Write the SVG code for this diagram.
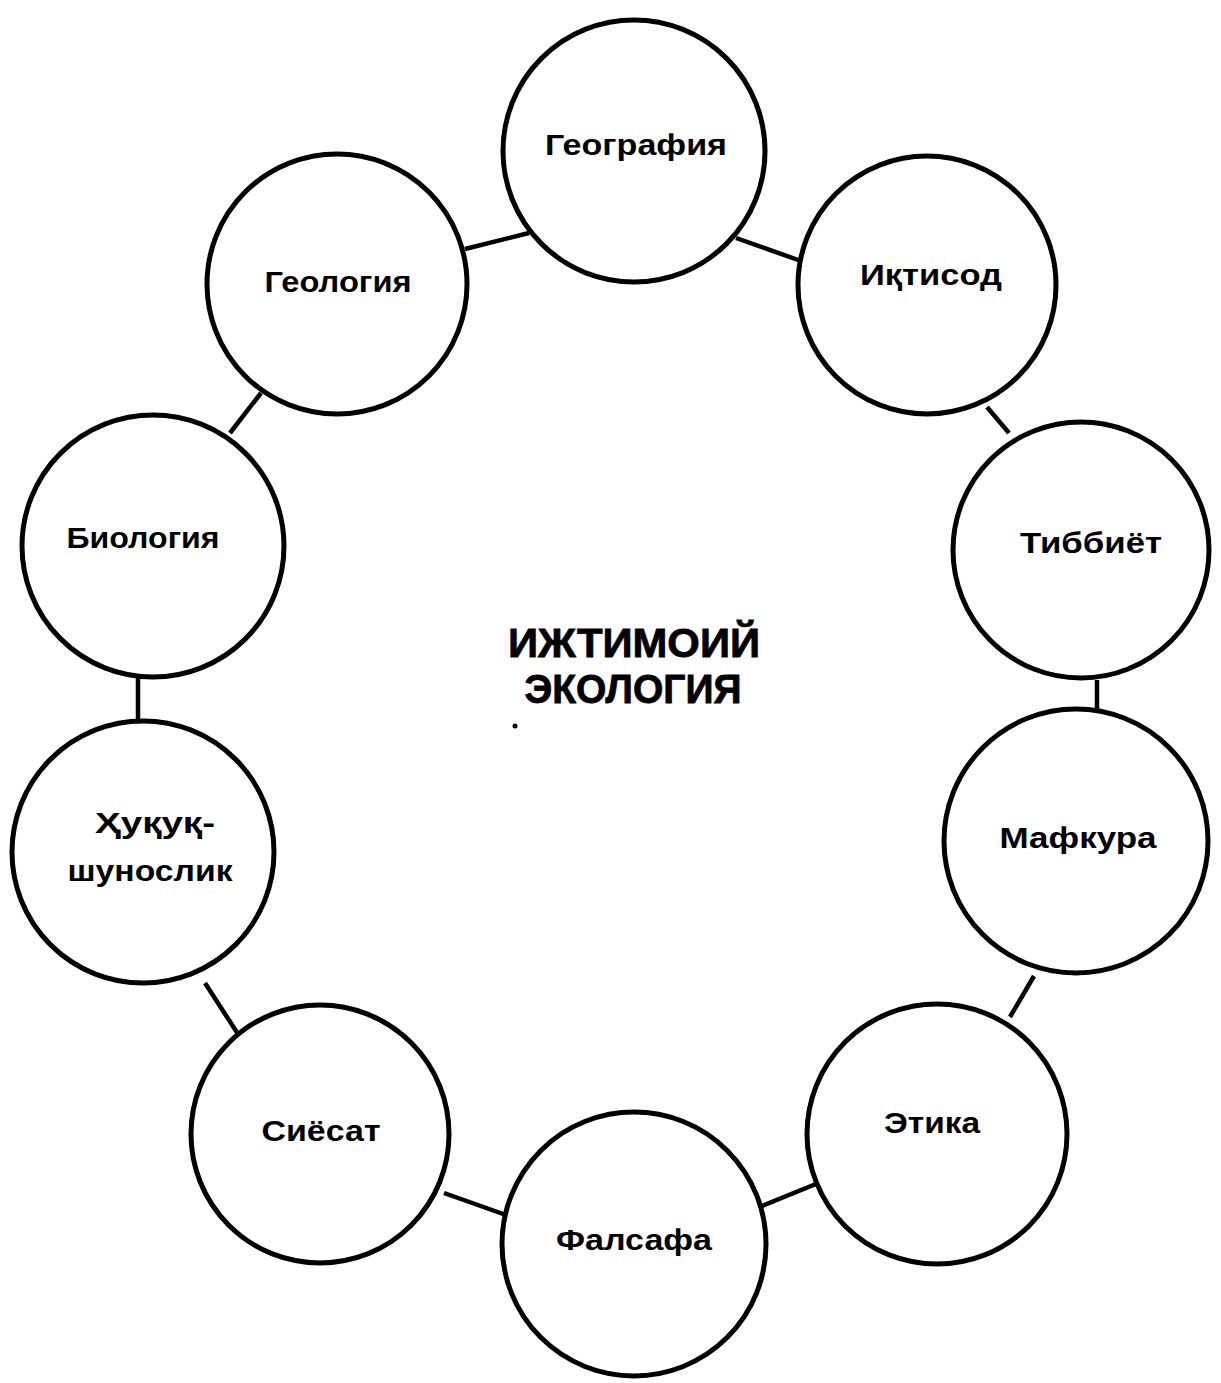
<svg xmlns="http://www.w3.org/2000/svg" width="1221" height="1383" viewBox="0 0 1221 1383">
<style>
.n{fill:#fff;stroke:#000;stroke-width:5}
.t{font-family:"Liberation Sans",Arial,sans-serif;font-weight:bold;font-size:29px;fill:#000;text-anchor:middle}
.c{font-family:"Liberation Sans",Arial,sans-serif;font-weight:bold;font-size:40px;fill:#000;text-anchor:middle;stroke:#000;stroke-width:0.8}
.e{stroke:#000;stroke-width:4.5;fill:none}
</style>
<rect width="1221" height="1383" fill="#fff"/>
<g id="connectors">
<line class="e" x1="465" y1="249" x2="529" y2="233"/>
<line class="e" x1="736" y1="238" x2="801" y2="261"/>
<line class="e" x1="987" y1="407" x2="1009" y2="433"/>
<line class="e" x1="1097" y1="680" x2="1097" y2="712"/>
<line class="e" x1="1034" y1="976" x2="1010" y2="1017"/>
<line class="e" x1="816" y1="1184" x2="762" y2="1206"/>
<line class="e" x1="506" y1="1215" x2="444" y2="1193"/>
<line class="e" x1="238" y1="1034" x2="205" y2="983"/>
<line class="e" x1="138" y1="678" x2="138" y2="722"/>
<line class="e" x1="230" y1="433" x2="261" y2="393"/>
</g>
<g id="n-geografiya"><circle class="n" cx="634" cy="151" r="131"/><text class="t" x="636" y="155" textLength="182" lengthAdjust="spacingAndGlyphs">География</text></g>
<g id="n-iqtisod"><circle class="n" cx="927" cy="285" r="129"/><text class="t" x="931" y="285" textLength="142" lengthAdjust="spacingAndGlyphs">Иқтисод</text></g>
<g id="n-tibbiyot"><circle class="n" cx="1081" cy="550" r="128"/><text class="t" x="1091" y="553" textLength="142" lengthAdjust="spacingAndGlyphs">Тиббиёт</text></g>
<g id="n-mafkura"><circle class="n" cx="1076" cy="841" r="132"/><text class="t" x="1078" y="848" textLength="157" lengthAdjust="spacingAndGlyphs">Мафкура</text></g>
<g id="n-etika"><circle class="n" cx="937" cy="1134" r="130"/><text class="t" x="932" y="1133" textLength="96" lengthAdjust="spacingAndGlyphs">Этика</text></g>
<g id="n-falsafa"><circle class="n" cx="634" cy="1244" r="132"/><text class="t" x="634" y="1250" textLength="156" lengthAdjust="spacingAndGlyphs">Фалсафа</text></g>
<g id="n-siyosat"><circle class="n" cx="320" cy="1134" r="129"/><text class="t" x="321" y="1141" textLength="119" lengthAdjust="spacingAndGlyphs">Сиёсат</text></g>
<g id="n-huquq"><circle class="n" cx="143" cy="852" r="131"/><text class="t" x="155" y="833" textLength="120" lengthAdjust="spacingAndGlyphs">Ҳуқуқ-</text><text class="t" x="150" y="881" textLength="165" lengthAdjust="spacingAndGlyphs">шунослик</text></g>
<g id="n-biologiya"><circle class="n" cx="153" cy="546" r="131"/><text class="t" x="143" y="548" textLength="153" lengthAdjust="spacingAndGlyphs">Биология</text></g>
<g id="n-geologiya"><circle class="n" cx="337" cy="284" r="130"/><text class="t" x="338" y="292" textLength="147" lengthAdjust="spacingAndGlyphs">Геология</text></g>
<g id="center"><text class="c" x="634" y="657" textLength="252" lengthAdjust="spacingAndGlyphs">ИЖТИМОИЙ</text><text class="c" x="633" y="703" textLength="217" lengthAdjust="spacingAndGlyphs">ЭКОЛОГИЯ</text><circle cx="515" cy="726" r="2.5" fill="#000"/></g>
</svg>
